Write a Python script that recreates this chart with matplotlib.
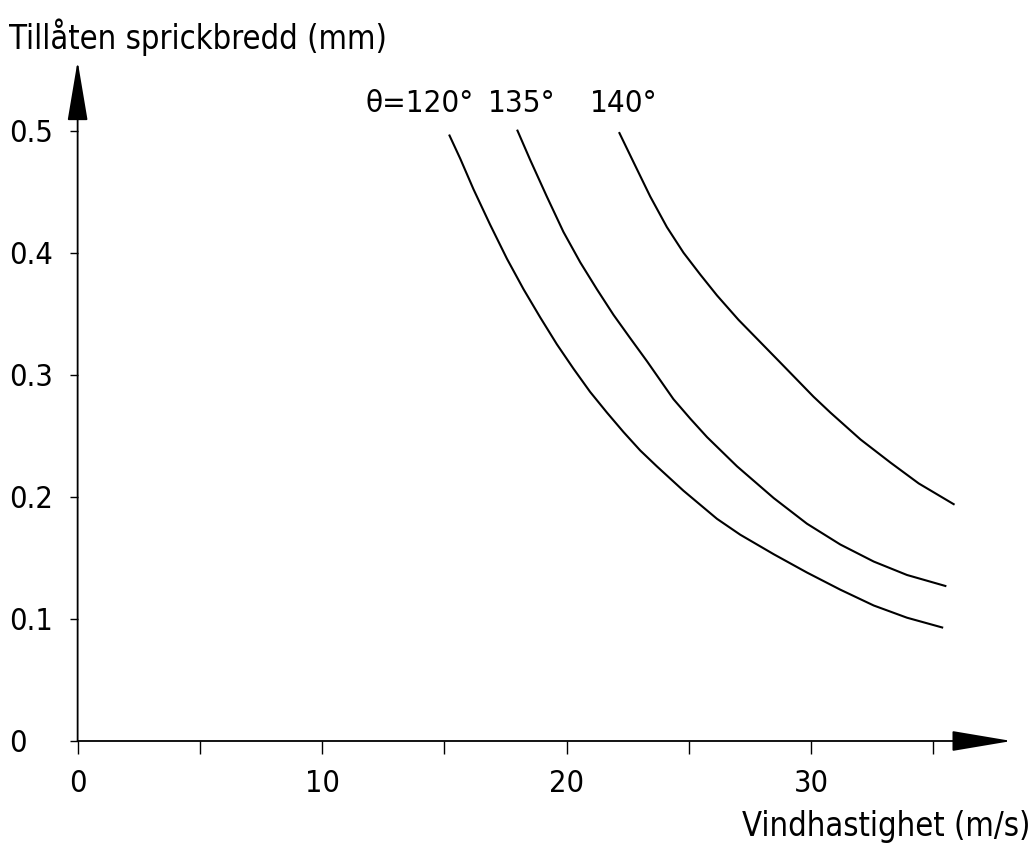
import numpy as np
import matplotlib.pyplot as plt

plt.rcParams['font.family'] = ['DejaVu Sans']
plt.rcParams['font.stretch'] = 'condensed'

# data (wind speed m/s, allowed crack width mm)
v_120 = [15.21, 15.65, 16.19, 16.87, 17.56, 18.24, 18.92, 19.60, 20.28, 20.96,
         21.65, 22.33, 23.01, 23.69, 24.78, 26.15, 27.10, 28.47, 29.83, 31.19,
         32.56, 33.92, 35.36]
w_120 = [0.496, 0.477, 0.452, 0.423, 0.395, 0.370, 0.347, 0.325, 0.305, 0.286,
         0.269, 0.253, 0.238, 0.225, 0.205, 0.182, 0.169, 0.153, 0.138, 0.124,
         0.111, 0.101, 0.093]

v_135 = [17.99, 18.51, 19.19, 19.87, 20.56, 21.24, 21.92, 22.60, 23.29, 24.37,
         25.06, 25.74, 26.97, 28.47, 29.83, 31.19, 32.56, 33.92, 35.49]
w_135 = [0.500, 0.476, 0.446, 0.417, 0.392, 0.370, 0.349, 0.330, 0.311, 0.280,
         0.264, 0.249, 0.225, 0.199, 0.178, 0.161, 0.147, 0.136, 0.127]

v_140 = [22.16, 22.74, 23.42, 24.10, 24.78, 25.47, 26.15, 27.03, 28.74, 30.10,
         30.79, 32.02, 33.25, 34.40, 35.83]
w_140 = [0.498, 0.474, 0.446, 0.421, 0.400, 0.382, 0.365, 0.345, 0.310, 0.282,
         0.269, 0.247, 0.228, 0.211, 0.194]

x_ticks = [0, 5, 10, 15, 20, 25, 30, 35]
x_labels = ['0', '', '10', '', '20', '', '30', '']
y_ticks = [0, 0.1, 0.2, 0.3, 0.4, 0.5]
y_labels = ['0', '0.1', '0.2', '0.3', '0.4', '0.5']

fig = plt.figure(figsize=(10.35, 8.43), dpi=100)
ax = fig.add_axes([0.075, 0.121, 0.9024, 0.8066])

for v, w in [(v_120, w_120), (v_135, w_135), (v_140, w_140)]:
    ax.plot(v, w, color='black', lw=1.5, solid_joinstyle='round')

ax.set_xlim(0, 38.2)
ax.set_ylim(0, 0.557)

# axes drawn as arrows
for s in ax.spines.values():
    s.set_visible(False)
arr = dict(arrowstyle='-|>,head_length=1.9,head_width=0.32', color='black',
           lw=1.3, mutation_scale=20, shrinkA=0, shrinkB=0)
ax.annotate('', xy=(38.2, 0), xytext=(0, 0), arrowprops=arr, annotation_clip=False)
ax.annotate('', xy=(0, 0.557), xytext=(0, 0), arrowprops=arr, annotation_clip=False)

ax.set_xticks(x_ticks)
ax.set_xticklabels(x_labels)
ax.set_yticks(y_ticks)
ax.set_yticklabels(y_labels)
ax.tick_params(axis='x', direction='out', length=9, width=1, pad=11, labelsize=22)
ax.tick_params(axis='y', direction='out', length=6, width=1, pad=43, labelsize=22)
for lab in ax.get_yticklabels():
    lab.set_horizontalalignment('left')

# axis titles
fig.text(0.009, 0.956, 'Tillåten sprickbredd (mm)', fontsize=23.5, ha='left', va='center')
fig.text(0.996, 0.019, 'Vindhastighet (m/s)', fontsize=23.5, ha='right', va='center')

# curve labels
ax.text(11.76, 0.5156, 'θ=120°', fontsize=22.5, ha='left', va='baseline')
ax.text(16.79, 0.5156, '135°', fontsize=22.5, ha='left', va='baseline')
ax.text(20.97, 0.5156, '140°', fontsize=22.5, ha='left', va='baseline')

fig.savefig('out.png', dpi=100)
